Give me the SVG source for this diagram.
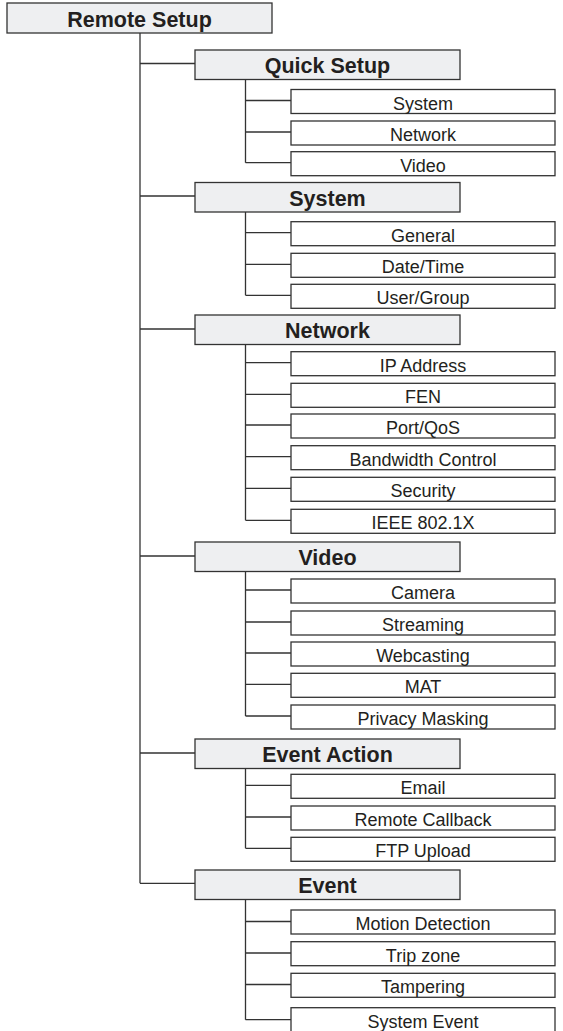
<svg xmlns="http://www.w3.org/2000/svg" width="563" height="1031" viewBox="0 0 563 1031">
<style>
.hdr{fill:#eeeff1;stroke:#333;stroke-width:1.3}
.leaf{fill:#fff;stroke:#333;stroke-width:1.3}
.ht{font-family:"Liberation Sans",Arial,sans-serif;font-weight:bold;font-size:21.5px;fill:#231f20;text-anchor:middle}
.lt{font-family:"Liberation Sans",Arial,sans-serif;font-size:18px;fill:#231f20;text-anchor:middle}
.con{stroke:#333;stroke-width:1.3;fill:none}
</style>
<rect width="563" height="1031" fill="#fff"/>
<g id="connectors" class="con">
<path d="M140,33V883.3 M140,63.5H195 M140,196H195 M140,329H195 M140,556H195 M140,753H195 M140,883.3H195"/>
<path d="M245.5,79.5V162.7 M245.5,100.5H291 M245.5,132H291 M245.5,162.7H291"/>
<path d="M245.5,212V295.3 M245.5,232.7H291 M245.5,264.3H291 M245.5,295.3H291"/>
<path d="M245.5,344.5V520.3 M245.5,362.7H291 M245.5,394.3H291 M245.5,425H291 M245.5,456.7H291 M245.5,488.3H291 M245.5,520.3H291"/>
<path d="M245.5,571.5V716 M245.5,590H291 M245.5,622H291 M245.5,653H291 M245.5,684.3H291 M245.5,716H291"/>
<path d="M245.5,768.5V848.3 M245.5,785.3H291 M245.5,817H291 M245.5,848.3H291"/>
<path d="M245.5,899.5V1019.7 M245.5,921.5H291 M245.5,953H291 M245.5,984.5H291 M245.5,1019.7H291"/>
</g>
<g id="root"><rect class="hdr" x="7" y="3" width="265" height="30"/><text class="ht" x="139.5" y="26.5">Remote Setup</text></g>

<g id="quick-setup"><rect class="hdr" x="195" y="50" width="265" height="29.5"/><text class="ht" x="327.5" y="73.3">Quick Setup</text></g>
<g id="qs-system"><rect class="leaf" x="291" y="89.5" width="264" height="24"/><text class="lt" x="423" y="109.5">System</text></g>
<g id="qs-network"><rect class="leaf" x="291" y="121" width="264" height="24"/><text class="lt" x="423" y="141">Network</text></g>
<g id="qs-video"><rect class="leaf" x="291" y="151.7" width="264" height="24"/><text class="lt" x="423" y="171.7">Video</text></g>

<g id="system"><rect class="hdr" x="195" y="182.5" width="265" height="29.5"/><text class="ht" x="327.5" y="205.8">System</text></g>
<g id="sys-general"><rect class="leaf" x="291" y="221.7" width="264" height="24"/><text class="lt" x="423" y="241.7">General</text></g>
<g id="sys-datetime"><rect class="leaf" x="291" y="253.3" width="264" height="24"/><text class="lt" x="423" y="273.3">Date/Time</text></g>
<g id="sys-usergroup"><rect class="leaf" x="291" y="284.3" width="264" height="24"/><text class="lt" x="423" y="304.3">User/Group</text></g>

<g id="network"><rect class="hdr" x="195" y="315" width="265" height="29.5"/><text class="ht" x="327.5" y="338.3">Network</text></g>
<g id="net-ip"><rect class="leaf" x="291" y="351.7" width="264" height="24"/><text class="lt" x="423" y="371.7">IP Address</text></g>
<g id="net-fen"><rect class="leaf" x="291" y="383.3" width="264" height="24"/><text class="lt" x="423" y="403.3">FEN</text></g>
<g id="net-port"><rect class="leaf" x="291" y="414" width="264" height="24"/><text class="lt" x="423" y="434">Port/QoS</text></g>
<g id="net-bw"><rect class="leaf" x="291" y="445.7" width="264" height="24"/><text class="lt" x="423" y="465.7">Bandwidth Control</text></g>
<g id="net-sec"><rect class="leaf" x="291" y="477.3" width="264" height="24"/><text class="lt" x="423" y="497.3">Security</text></g>
<g id="net-ieee"><rect class="leaf" x="291" y="509.3" width="264" height="24"/><text class="lt" x="423" y="529.3">IEEE 802.1X</text></g>

<g id="video"><rect class="hdr" x="195" y="542" width="265" height="29.5"/><text class="ht" x="327.5" y="565.3">Video</text></g>
<g id="vid-camera"><rect class="leaf" x="291" y="579" width="264" height="24"/><text class="lt" x="423" y="599">Camera</text></g>
<g id="vid-streaming"><rect class="leaf" x="291" y="611" width="264" height="24"/><text class="lt" x="423" y="631">Streaming</text></g>
<g id="vid-webcasting"><rect class="leaf" x="291" y="642" width="264" height="24"/><text class="lt" x="423" y="662">Webcasting</text></g>
<g id="vid-mat"><rect class="leaf" x="291" y="673.3" width="264" height="24"/><text class="lt" x="423" y="693.3">MAT</text></g>
<g id="vid-privacy"><rect class="leaf" x="291" y="705" width="264" height="24"/><text class="lt" x="423" y="725">Privacy Masking</text></g>

<g id="event-action"><rect class="hdr" x="195" y="739" width="265" height="29.5"/><text class="ht" x="327.5" y="762.3">Event Action</text></g>
<g id="ea-email"><rect class="leaf" x="291" y="774.3" width="264" height="24"/><text class="lt" x="423" y="794.3">Email</text></g>
<g id="ea-callback"><rect class="leaf" x="291" y="806" width="264" height="24"/><text class="lt" x="423" y="826">Remote Callback</text></g>
<g id="ea-ftp"><rect class="leaf" x="291" y="837.3" width="264" height="24"/><text class="lt" x="423" y="857.3">FTP Upload</text></g>

<g id="event"><rect class="hdr" x="195" y="870" width="265" height="29.5"/><text class="ht" x="327.5" y="893.3">Event</text></g>
<g id="ev-motion"><rect class="leaf" x="291" y="910" width="264" height="24"/><text class="lt" x="423" y="930">Motion Detection</text></g>
<g id="ev-trip"><rect class="leaf" x="291" y="941.7" width="264" height="24"/><text class="lt" x="423" y="961.7">Trip zone</text></g>
<g id="ev-tamper"><rect class="leaf" x="291" y="973.3" width="264" height="24"/><text class="lt" x="423" y="993.3">Tampering</text></g>
<g id="ev-sysevent"><rect class="leaf" x="291" y="1007.7" width="264" height="24"/><text class="lt" x="423" y="1027.7">System Event</text></g>
</svg>
